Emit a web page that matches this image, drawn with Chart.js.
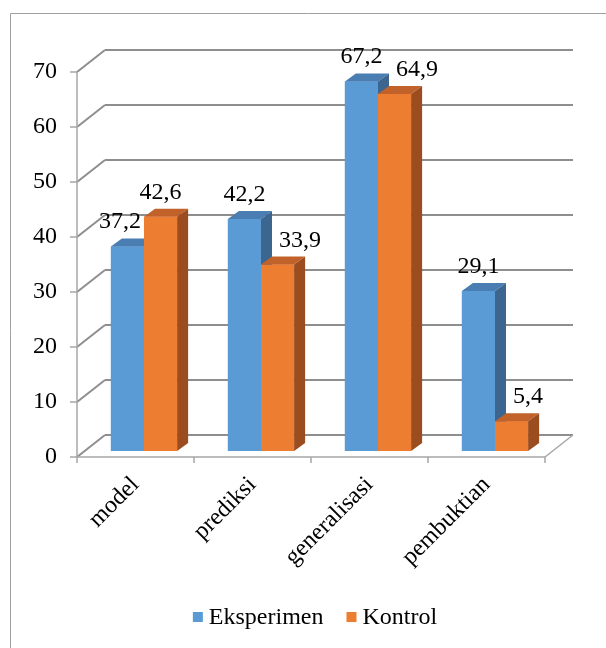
<!DOCTYPE html>
<html>
<head>
<meta charset="utf-8">
<script src="https://cdn.jsdelivr.net/npm/chart.js@4"></script>
<style>
  html, body { margin: 0; padding: 0; background: #fff; }
  #wrap { width: 606px; height: 648px; position: relative; }
</style>
</head>
<body>
<div id="wrap"><canvas id="chart" width="606" height="648"></canvas></div>
<script>
const categories = ['model', 'prediksi', 'generalisasi', 'pembuktian'];
const eksperimen = [37.2, 42.2, 67.2, 29.1];
const kontrol = [42.6, 33.9, 64.9, 5.4];
const seriesNames = ['Eksperimen', 'Kontrol'];
const yTicks = { min: 0, max: 70, step: 10 };

const FONT = "'Liberation Serif', 'Times New Roman', serif";
const WALL = { dx: 28, dy: -22 };   // back wall offset
const BAR = { dx: 8.5, dy: -6 };    // bars sit inside the depth
const DEPTH = { dx: 11, dy: -8 };   // bar thickness
const faces = [
  { front: '#5b9bd5', top: '#4a7db1', side: '#3c6690' },
  { front: '#ed7d31', top: '#c0622a', side: '#9c4d1f' }
];

function line(ctx, x1, y1, x2, y2) {
  ctx.beginPath();
  ctx.moveTo(x1, y1);
  ctx.lineTo(x2, y2);
  ctx.stroke();
}

function fmt(v) { return v.toFixed(1).replace('.', ','); }

const frame3d = {
  id: 'frame3d',
  beforeDraw(chart) {
    const ctx = chart.ctx;
    ctx.save();
    ctx.strokeStyle = '#a0a0a0';
    ctx.lineWidth = 1;
    line(ctx, 10.5, 13.5, 606, 13.5);
    line(ctx, 10.5, 13.5, 10.5, 648);
    ctx.restore();
  },
  beforeDatasetsDraw(chart) {
    const ctx = chart.ctx;
    const ys = chart.scales.y, xs = chart.scales.x;
    const { left, right, top, bottom } = chart.chartArea;
    ctx.save();
    ctx.strokeStyle = '#8e8e8e';
    ctx.lineWidth = 2;
    ys.ticks.forEach(t => {
      const y = ys.getPixelForValue(t.value);
      line(ctx, left, y, left + WALL.dx, y + WALL.dy);
      line(ctx, left + WALL.dx, y + WALL.dy, right + WALL.dx, y + WALL.dy);
    });
    ctx.strokeStyle = '#a6a6a6';
    ctx.lineWidth = 1.5;
    ys.ticks.forEach(t => {
      const y = ys.getPixelForValue(t.value);
      line(ctx, left - 7, y, left, y);
    });
    line(ctx, left, top, left, bottom);
    line(ctx, left, bottom, right, bottom);
    line(ctx, right, bottom, right + WALL.dx, bottom + WALL.dy);
    const n = categories.length;
    for (let i = 0; i <= n; i++) {
      const x = xs.left + i * (xs.width / n);
      line(ctx, x, bottom, x, bottom + 6);
    }
    ctx.restore();

    ctx.save();
    ctx.translate(BAR.dx, BAR.dy);
  },
  afterDatasetsDraw(chart) {
    const ctx = chart.ctx;
    const metas = chart.data.datasets.map((ds, i) => chart.getDatasetMeta(i));
    // redraw front to back so the right bar hides the left bar's side face
    metas.forEach((meta, i) => {
      const f = faces[i];
      meta.data.forEach(bar => {
        bar.draw(ctx);
        const { x, y, base, width } = bar.getProps(['x', 'y', 'base', 'width'], true);
        const l = x - width / 2, r = x + width / 2;
        ctx.fillStyle = f.top;
        ctx.beginPath();
        ctx.moveTo(l, y);
        ctx.lineTo(l + DEPTH.dx, y + DEPTH.dy);
        ctx.lineTo(r + DEPTH.dx, y + DEPTH.dy);
        ctx.lineTo(r, y);
        ctx.closePath();
        ctx.fill();
        ctx.fillStyle = f.side;
        ctx.beginPath();
        ctx.moveTo(r, y);
        ctx.lineTo(r + DEPTH.dx, y + DEPTH.dy);
        ctx.lineTo(r + DEPTH.dx, base + DEPTH.dy);
        ctx.lineTo(r, base);
        ctx.closePath();
        ctx.fill();
      });
    });

    // value labels, nudged sideways when they would hit the neighbour bar
    ctx.font = '24px ' + FONT;
    ctx.fillStyle = '#000';
    ctx.textAlign = 'center';
    ctx.textBaseline = 'alphabetic';
    const H = 17;
    categories.forEach((c, j) => {
      const b = metas[0].data[j], o = metas[1].data[j];
      const bv = eksperimen[j], ov = kontrol[j];
      const bt = fmt(bv), ot = fmt(ov);
      const bw = ctx.measureText(bt).width, ow = ctx.measureText(ot).width;
      const bBase = b.y - 18, oBase = o.y - 18;
      let bx = b.x, ox = o.x;
      const bRight = b.x + b.width / 2;
      // orange label hidden by a taller blue bar
      if (b.y + DEPTH.dy < oBase && ox - ow / 2 < bRight + DEPTH.dx) {
        ox = bRight + DEPTH.dx + 7 + ow / 2;
      }
      // blue label hitting the taller orange bar or the orange label
      const hitsBar = o.y + DEPTH.dy < bBase && bx + bw / 2 > bRight;
      const hitsLabel = bBase > oBase - H && bBase - H < oBase && bx + bw / 2 > ox - ow / 2;
      if (hitsBar || hitsLabel) {
        bx = bRight - 3 - bw / 2;
      }
      ctx.fillText(bt, bx, bBase);
      ctx.fillText(ot, ox, oBase);
    });
    ctx.restore();
  },
  afterDraw(chart) {
    const ctx = chart.ctx;
    ctx.save();
    ctx.font = '24px ' + FONT;
    ctx.textBaseline = 'middle';
    ctx.textAlign = 'left';
    const box = 10, gap = 6, between = 23;
    const items = chart.data.datasets.map((ds, i) => ({ label: ds.label, color: faces[i].front, w: ctx.measureText(ds.label).width }));
    const total = items.reduce((s, it) => s + box + gap + it.w, 0) + between * (items.length - 1);
    let x = 315 - total / 2;
    const y = 617;
    items.forEach(it => {
      ctx.fillStyle = it.color;
      ctx.fillRect(x, y - box / 2, box, box);
      ctx.fillStyle = '#000';
      ctx.fillText(it.label, x + box + gap, y + 1);
      x += box + gap + it.w + between;
    });
    ctx.restore();
  }
};

new Chart(document.getElementById('chart').getContext('2d'), {
  type: 'bar',
  data: {
    labels: categories,
    datasets: [
      { label: seriesNames[0], data: eksperimen, backgroundColor: faces[0].front },
      { label: seriesNames[1], data: kontrol, backgroundColor: faces[1].front }
    ]
  },
  options: {
    responsive: false,
    animation: false,
    events: [],
    layout: { padding: { left: 0, right: 61, top: 72, bottom: 0 } },
    datasets: { bar: { barPercentage: 1, categoryPercentage: 0.566 } },
    plugins: { legend: { display: false }, tooltip: { enabled: false } },
    scales: {
      x: {
        grid: { display: false, drawTicks: false },
        border: { display: false },
        ticks: { color: '#000', font: { family: FONT, size: 24 }, minRotation: 45, maxRotation: 45, padding: 14 },
        afterFit: s => { s.height = 191; }
      },
      y: {
        min: yTicks.min, max: yTicks.max,
        grid: { display: false, drawTicks: false },
        border: { display: false },
        ticks: { stepSize: yTicks.step, color: '#000', font: { family: FONT, size: 24 }, padding: 20 },
        afterFit: s => { s.width = 77; }
      }
    }
  },
  plugins: [frame3d]
});
</script>
</body>
</html>
